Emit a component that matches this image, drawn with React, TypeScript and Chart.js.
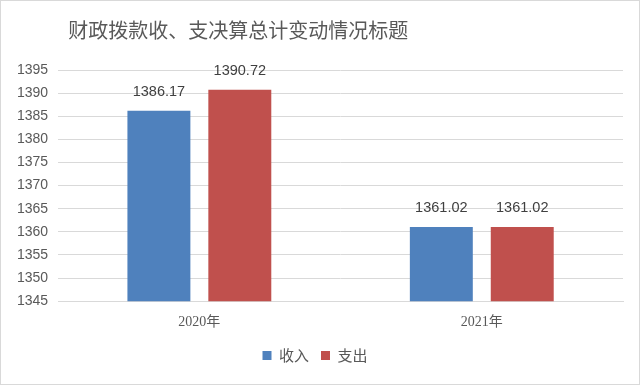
import React, { useEffect, useRef } from "react";
import { Chart, registerables } from "chart.js";

Chart.register(...registerables);

const titleText = "财政拨款收、支决算总计变动情况标题";
const categories = ["2020年", "2021年"];
const incomeValues = [1386.17, 1361.02];
const expenseValues = [1390.72, 1361.02];
const seriesNames = ["收入", "支出"];
const yMin = 1345;
const yMax = 1395;
const yStep = 5;

const BLUE = "#4F81BD";
const RED = "#C0504D";
const TEXT = "#595959";

const labelPlugin = {
  id: "valueLabels",
  afterDatasetsDraw(chart: any) {
    const ctx = chart.ctx;
    ctx.save();
    ctx.font = '14.5px "Liberation Sans", "Noto Sans", sans-serif';
    ctx.fillStyle = "#404040";
    ctx.textAlign = "center";
    ctx.textBaseline = "bottom";
    chart.data.datasets.forEach((ds: any, i: number) => {
      const meta = chart.getDatasetMeta(i);
      meta.data.forEach((bar: any, j: number) => {
        ctx.fillText(Number(ds.data[j]).toFixed(2), bar.x, bar.y - 12);
      });
    });
    ctx.restore();
  },
};

const titlePlugin = {
  id: "customTitle",
  afterDraw(chart: any) {
    const ctx = chart.ctx;
    ctx.save();
    ctx.font = '20px "Noto Sans CJK SC", sans-serif';
    ctx.fillStyle = TEXT;
    ctx.textAlign = "left";
    ctx.textBaseline = "middle";
    ctx.fillText(titleText, chart.chartArea.left + 10, 29);
    ctx.restore();
  },
};

export default function App() {
  const ref = useRef<HTMLCanvasElement>(null);
  useEffect(() => {
    document.body.style.margin = "0";
    const chart = new Chart(ref.current!, {
      type: "bar",
      data: {
        labels: categories,
        datasets: [
          {
            label: seriesNames[0],
            data: incomeValues,
            backgroundColor: BLUE,
            categoryPercentage: 0.573,
            barPercentage: 0.778,
          },
          {
            label: seriesNames[1],
            data: expenseValues,
            backgroundColor: RED,
            categoryPercentage: 0.573,
            barPercentage: 0.778,
          },
        ],
      },
      options: {
        animation: false,
        responsive: false,
        maintainAspectRatio: false,
        layout: { padding: { top: 69, left: 6, right: 16, bottom: 11 } },
        plugins: {
          title: { display: false },
          tooltip: { enabled: false },
          legend: {
            position: "bottom",
            labels: {
              boxWidth: 9,
              boxHeight: 9,
              padding: 12,
              color: TEXT,
              font: { family: '"Noto Sans CJK SC", sans-serif', size: 15 },
            },
          },
        },
        scales: {
          x: {
            grid: { display: false },
            border: { color: "#D9D9D9" },
            ticks: {
              color: TEXT,
              padding: 5,
              font: { family: '"Liberation Serif", "Noto Sans CJK SC", serif', size: 14 },
            },
          },
          y: {
            min: yMin,
            max: yMax,
            ticks: {
              stepSize: yStep,
              color: TEXT,
              padding: 10,
              font: { family: '"Liberation Sans", sans-serif', size: 14 },
              callback: (v: any) => String(v),
            },
            grid: { color: "#D9D9D9", drawTicks: false },
            border: { display: false },
          },
        },
      },
      plugins: [labelPlugin, titlePlugin],
    });
    return () => chart.destroy();
  }, []);
  return (
    <div style={{ width: 640, height: 385, boxSizing: "border-box", border: "1px solid #D9D9D9", background: "#fff" }}>
      <canvas ref={ref} width={638} height={383} style={{ display: "block" }} />
    </div>
  );
}
